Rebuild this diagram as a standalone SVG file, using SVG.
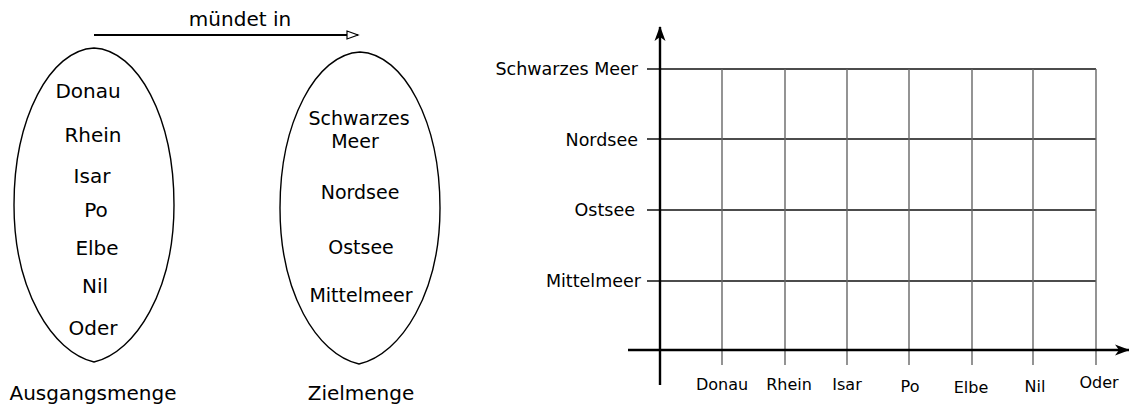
<svg xmlns="http://www.w3.org/2000/svg" width="1129" height="410" viewBox="0 0 1129 410">
<style>
  text { font-family: "DejaVu Sans", "Liberation Sans", sans-serif; fill: #000; }
  .big { font-size: 20px; text-anchor: middle; }
  .yl { font-size: 17.5px; text-anchor: end; }
  .xl { font-size: 16px; text-anchor: middle; }
  .egg { fill: none; stroke: #000; stroke-width: 1.4; }
  .grid { stroke: #111; stroke-width: 1.3; fill: none; }
  .vgrid { stroke: #666; stroke-width: 1.4; fill: none; }
  .axis { stroke: #000; stroke-width: 2.4; fill: none; }
</style>
<defs>
  <marker id="open" markerWidth="14" markerHeight="10" refX="12" refY="5" orient="auto" markerUnits="userSpaceOnUse">
    <path d="M1,1 L12,5 L1,9 Z" fill="#fff" stroke="#000" stroke-width="1.2"/>
  </marker>
  <marker id="solid" markerWidth="16" markerHeight="12" refX="14" refY="6" orient="auto" markerUnits="userSpaceOnUse">
    <path d="M0,0.5 L15,6 L0,11.5 L4,6 Z" fill="#000"/>
  </marker>
</defs>
<rect width="1129" height="410" fill="#fff"/>

<g id="connectors">
  <line x1="94" y1="35" x2="358" y2="35" stroke="#000" stroke-width="2" marker-end="url(#open)"/>
  <text class="big" x="240" y="26">mündet in</text>
</g>

<g id="ausgangsmenge">
  <path class="egg" d="M94,48 C138,50 174,118 174,205 C174,290 136,352 94,362 C52,352 14,290 14,205 C14,118 50,50 94,48 Z"/>
  <text class="big" x="88" y="98">Donau</text>
  <text class="big" x="93" y="142">Rhein</text>
  <text class="big" x="92" y="183">Isar</text>
  <text class="big" x="96" y="217">Po</text>
  <text class="big" x="97" y="255">Elbe</text>
  <text class="big" x="95" y="293">Nil</text>
  <text class="big" x="93" y="335">Oder</text>
  <text class="big" x="93" y="400">Ausgangsmenge</text>
</g>

<g id="zielmenge">
  <path class="egg" d="M360,52 C404,54 440,122 440,208 C440,292 402,354 359,364 C316,354 280,292 280,208 C280,122 316,54 360,52 Z"/>
  <text class="big" x="359" y="125" style="font-size:19px">Schwarzes</text>
  <text class="big" x="355" y="148" style="font-size:19px">Meer</text>
  <text class="big" x="360" y="199" style="font-size:19px">Nordsee</text>
  <text class="big" x="361" y="254" style="font-size:19px">Ostsee</text>
  <text class="big" x="361" y="302" style="font-size:19px">Mittelmeer</text>
  <text class="big" x="361" y="400">Zielmenge</text>
</g>

<g id="chart">
  <g id="grid">
    <line class="grid" x1="647" y1="69" x2="1096" y2="69"/>
    <line class="grid" x1="647" y1="139" x2="1096" y2="139"/>
    <line class="grid" x1="647" y1="210" x2="1096" y2="210"/>
    <line class="grid" x1="647" y1="281" x2="1096" y2="281"/>
    <line class="vgrid" x1="722" y1="69" x2="722" y2="365"/>
    <line class="vgrid" x1="785" y1="69" x2="785" y2="365"/>
    <line class="vgrid" x1="847" y1="69" x2="847" y2="365"/>
    <line class="vgrid" x1="909" y1="69" x2="909" y2="365"/>
    <line class="vgrid" x1="972" y1="69" x2="972" y2="365"/>
    <line class="vgrid" x1="1033" y1="69" x2="1033" y2="365"/>
    <line class="vgrid" x1="1096" y1="69" x2="1096" y2="365"/>
  </g>
  <g id="axes">
    <line class="axis" x1="660" y1="385" x2="660" y2="27" marker-end="url(#solid)"/>
    <line class="axis" x1="628" y1="350" x2="1129" y2="350" marker-end="url(#solid)"/>
  </g>
  <g id="y-labels">
    <text class="yl" x="638" y="75">Schwarzes Meer</text>
    <text class="yl" x="638" y="146">Nordsee</text>
    <text class="yl" x="635" y="216">Ostsee</text>
    <text class="yl" x="641" y="287">Mittelmeer</text>
  </g>
  <g id="x-labels">
    <text class="xl" x="722" y="390">Donau</text>
    <text class="xl" x="789" y="390">Rhein</text>
    <text class="xl" x="847" y="390">Isar</text>
    <text class="xl" x="910" y="392">Po</text>
    <text class="xl" x="971" y="393">Elbe</text>
    <text class="xl" x="1035" y="392">Nil</text>
    <text class="xl" x="1099" y="388">Oder</text>
  </g>
</g>
</svg>
